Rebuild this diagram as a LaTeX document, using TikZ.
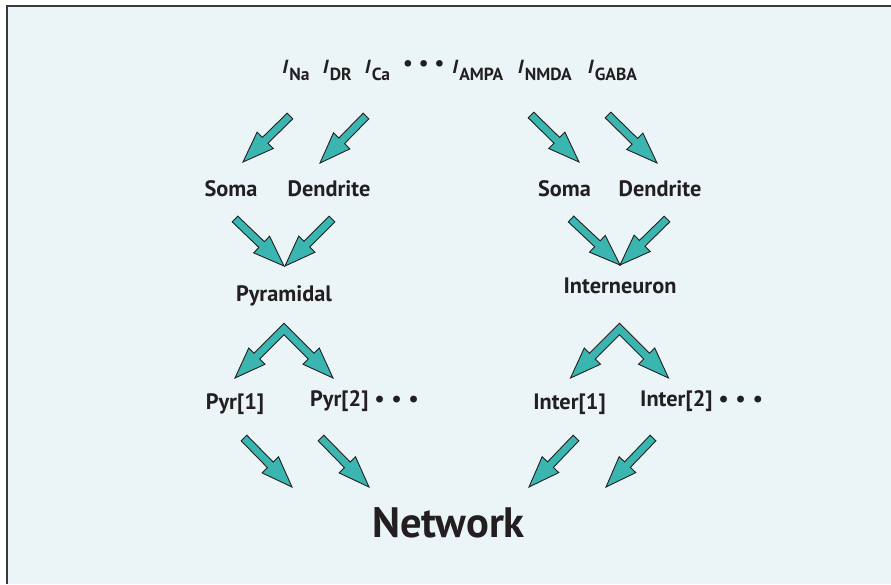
\documentclass[tikz,border=0pt]{standalone}
\usepackage{fontspec}
\setmainfont{PT Sans}
\newfontfamily\islant[FakeSlant=0.22]{PT Sans Bold}
\usetikzlibrary{calc}
\definecolor{bgc}{HTML}{EBF5F7}
\definecolor{tealf}{HTML}{3BB5B0}
\definecolor{ink}{HTML}{231F20}
\definecolor{framec}{HTML}{3A3A3A}
\tikzset{
  arr/.style={fill=tealf, draw=ink, line width=0.9pt, line join=miter},
  lbl/.style={font=\fontsize{22.3}{26}\selectfont\bfseries, text=ink, inner sep=0pt, anchor=base},
  lblw/.style={lbl, anchor=base west},
  cur/.style={font=\fontsize{17.5}{20}\selectfont\bfseries, text=ink, inner sep=0pt, anchor=base west},
  big/.style={font=\fontsize{42.5}{50}\selectfont\bfseries, text=ink, inner sep=0pt, anchor=base}
}
\newcommand\curr[1]{{\islant\fontsize{19}{22}\selectfont I}\kern2.2pt\raisebox{-7.4pt}{#1}}
\newcommand\threedots{\textbullet\hspace{7pt}\textbullet\hspace{7pt}\textbullet}
\newcommand\topdots{\textbullet\hspace{6pt}\textbullet\hspace{6pt}\textbullet}
\newcommand\blockarr[2]{%
  \path ($(#2)!31pt!(#1)$) coordinate (bb);
  \filldraw[arr] ($(#1)!4pt!90:(#2)$) -- ($(bb)!4pt!90:(#2)$) -- ($(bb)!11.5pt!90:(#2)$) -- (#2)
    -- ($(bb)!11.5pt!-90:(#2)$) -- ($(bb)!4pt!-90:(#2)$) -- ($(#1)!4pt!-90:(#2)$) -- cycle;
}
\newcommand\chevron[3]{%
  \path ($(#2)!31pt!(#1)$) coordinate (bl) ($(#3)!31pt!(#1)$) coordinate (br);
  \filldraw[arr] ($(#1)+(0,-5.66)$) -- ($(bl)!4pt!-90:(#2)$) -- ($(bl)!11.5pt!-90:(#2)$) -- (#2)
    -- ($(bl)!11.5pt!90:(#2)$) -- ($(bl)!4pt!90:(#2)$) -- ($(#1)+(0,5.66)$)
    -- ($(br)!4pt!-90:(#3)$) -- ($(br)!11.5pt!-90:(#3)$) -- (#3)
    -- ($(br)!11.5pt!90:(#3)$) -- ($(br)!4pt!90:(#3)$) -- cycle;
}
\begin{document}
\begin{tikzpicture}[x=1pt,y=-1pt]
\useasboundingbox (0,0) rectangle (891,584);
\fill[white] (0,0) rectangle (891,584);
\fill[bgc] (7,6) rectangle (891,584);
\draw[framec, line width=1.8pt] (7,584) -- (7,6) -- (891,6);

% top line of currents
\node[cur] (iNa)   at (281.5,73.3) {\curr{Na}};
\node[cur] (iDR)   at (322,73.3)   {\curr{DR}};
\node[cur] (iCa)   at (364,73.3)   {\curr{Ca}};
\node[cur] (idots) at (403,73.3)   {\raisebox{3pt}{\fontsize{21.5}{25}\selectfont\topdots}};
\node[cur] (iAMPA) at (451.5,73.3) {\curr{AMPA}};
\node[cur] (iNMDA) at (517,73.3)   {\curr{NMDA}};
\node[cur] (iGABA) at (587,73.3)   {\curr{GABA}};

% labels
\node[lbl] (somaL) at (231,196)   {Soma};
\node[lbl] (dendL) at (329,196)   {Dendrite};
\node[lbl] (somaR) at (564.5,196) {Soma};
\node[lbl] (dendR) at (660,196)   {Dendrite};
\node[lbl] (pyr)   at (284,301.5) {Pyramidal};
\node[lbl] (inter) at (620,293.3) {Interneuron};
\node[lbl]  (pyr1)   at (235,409.3)   {Pyr[1]};
\node[lblw] (pyr2)   at (310,406.7)   {Pyr[2]\hspace{6pt}\threedots};
\node[lbl]  (inter1) at (569.5,409.3) {Inter[1]};
\node[lblw] (inter2) at (640,406.7)   {Inter[2]\hspace{6pt}\threedots};
\node[big]  (net)    at (448.5,537)   {Network};

% arrow end points
\coordinate (a1s) at (290,116); \coordinate (a1e) at (243,162);
\coordinate (a2s) at (366,116); \coordinate (a2e) at (320,163);
\coordinate (a3s) at (235,219); \coordinate (a3e) at (284,266);
\coordinate (a4s) at (332,219); \coordinate (a4e) at (285,266);
\coordinate (a5s) at (531,115); \coordinate (a5e) at (579,162);
\coordinate (a6s) at (608,115); \coordinate (a6e) at (657,163);
\coordinate (a7s) at (571,219); \coordinate (a7e) at (620,265);
\coordinate (a8s) at (667,219); \coordinate (a8e) at (620,265);
\coordinate (cpS) at (284,329);   \coordinate (cpL) at (235,378);   \coordinate (cpR) at (333,378);
\coordinate (ciS) at (619.5,329); \coordinate (ciL) at (570.5,378); \coordinate (ciR) at (668.5,378);
\coordinate (a9s)  at (244,438); \coordinate (a9e)  at (292,487);
\coordinate (a10s) at (321,438); \coordinate (a10e) at (369,487);
\coordinate (a11s) at (576,438); \coordinate (a11e) at (529,487);
\coordinate (a12s) at (653,438); \coordinate (a12e) at (606,487);

\blockarr{a1s}{a1e}
\blockarr{a2s}{a2e}
\blockarr{a3s}{a3e}
\blockarr{a4s}{a4e}
\blockarr{a5s}{a5e}
\blockarr{a6s}{a6e}
\blockarr{a7s}{a7e}
\blockarr{a8s}{a8e}
\chevron{cpS}{cpL}{cpR}
\chevron{ciS}{ciL}{ciR}
\blockarr{a9s}{a9e}
\blockarr{a10s}{a10e}
\blockarr{a11s}{a11e}
\blockarr{a12s}{a12e}
\end{tikzpicture}
\end{document}
